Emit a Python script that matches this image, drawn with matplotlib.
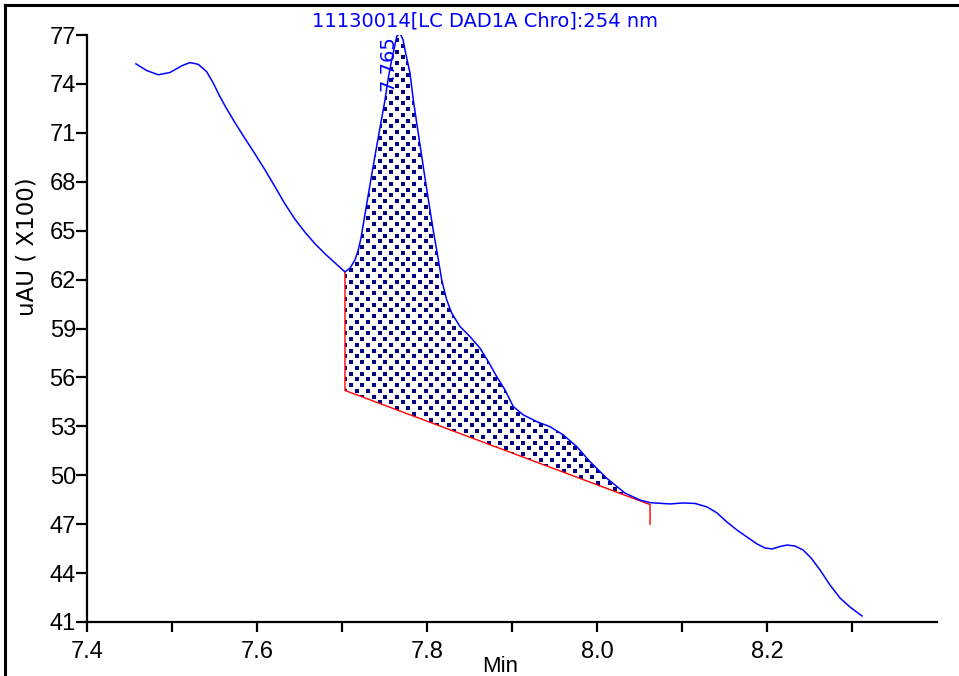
import numpy as np
import matplotlib
matplotlib.use("Agg")
import matplotlib.pyplot as plt
from matplotlib.lines import Line2D
from matplotlib.patches import Polygon

# chromatogram trace (min, uAU x100)
time_min = [7.4576, 7.4702, 7.4839, 7.4976, 7.5114, 7.5212, 7.5309, 7.5408, 7.5486, 7.5556,
            7.5635, 7.5741, 7.5859, 7.5976, 7.6094, 7.6212, 7.6329, 7.6447, 7.6565, 7.6682,
            7.6800, 7.6918, 7.6976, 7.7035,
            7.7094, 7.7153, 7.7192, 7.7224, 7.7271, 7.7329, 7.7388, 7.7447, 7.7506, 7.7541,
            7.7585, 7.7644, 7.7682, 7.7718, 7.7741, 7.7800, 7.7839, 7.7882, 7.7918, 7.7976,
            7.8035, 7.8082, 7.8118, 7.8173, 7.8232, 7.8291, 7.8388, 7.8506, 7.8624, 7.8721,
            7.8820, 7.8918, 7.9015, 7.9133, 7.9291, 7.9447, 7.9604, 7.9761, 7.9918, 8.0114,
            8.0329, 8.0506, 8.0624,
            8.0682, 8.0859, 8.1012, 8.1153, 8.1294, 8.1412, 8.1529, 8.1647, 8.1765, 8.1882,
            8.1976, 8.2059, 8.2153, 8.2235, 8.2329, 8.2424, 8.2518, 8.2624, 8.2741, 8.2859,
            8.2976, 8.3118]
signal = [75.23, 74.82, 74.56, 74.70, 75.11, 75.31, 75.20, 74.75, 74.05, 73.30,
          72.55, 71.62, 70.65, 69.71, 68.73, 67.69, 66.64, 65.70, 64.90, 64.20,
          63.58, 63.02, 62.75, 62.47,
          62.70, 63.21, 63.82, 64.56, 66.03, 67.81, 69.59, 71.31, 73.02, 74.25,
          75.48, 76.91, 77.13, 76.71, 76.09, 74.66, 73.02, 71.49, 70.26, 68.24,
          66.28, 64.75, 63.70, 61.98, 60.75, 59.94, 59.12, 58.50, 57.79, 56.97,
          56.05, 55.23, 54.21, 53.70, 53.29, 52.98, 52.47, 51.76, 50.83, 49.82,
          48.91, 48.48, 48.32,
          48.30, 48.24, 48.30, 48.27, 48.06, 47.69, 47.13, 46.64, 46.21, 45.79,
          45.54, 45.48, 45.63, 45.72, 45.66, 45.42, 44.93, 44.19, 43.27, 42.47,
          41.92, 41.37]

# integration baseline of the peak
peak_start, peak_end = 7.7035, 8.0624
base_start, base_end = 55.2, 48.2
start_top, end_drop = 62.47, 47.0
peak_rt = "7.765"

yticks = list(range(41, 78, 3))
xticks_major = [7.4, 7.6, 7.8, 8.0, 8.2]
xticks_minor = [7.5, 7.7, 7.9, 8.1, 8.3]

W, H = 959, 676
fig = plt.figure(figsize=(W / 100, H / 100), dpi=100)
ax = fig.add_axes([87 / W, (H - 622) / H, 850 / W, 587 / H])

tick_font = ['Liberation Sans Narrow', 'Liberation Sans', 'DejaVu Sans']

t = np.array(time_min)
s = np.array(signal)
ax.plot(t, s, color='#0000ff', lw=1.1, zorder=3)

# shaded peak area with a dotted pattern
mask = (t >= peak_start) & (t <= peak_end)
verts = list(zip(t[mask], s[mask])) + [(peak_end, base_end), (peak_start, base_start)]
poly = Polygon(verts, closed=True, facecolor='none', edgecolor='none')
ax.add_patch(poly)
dx, dy = 11.5 / 850, 5.75 / 587 * 36
rows = np.arange(46, 78, dy)
gx, gy = [], []
for i, yy in enumerate(rows):
    xs = np.arange(7.69 + (dx / 2 if i % 2 else 0), 8.08, dx)
    gx.extend(xs)
    gy.extend([yy] * len(xs))
dots = ax.scatter(gx, gy, marker='s', s=5, color='#000080', linewidths=0, zorder=2)
dots.set_clip_path(poly)

# red baseline
ax.plot([peak_start, peak_start, peak_end, peak_end],
        [start_top, base_start, base_end, end_drop], color='red', lw=1, zorder=2)

ax.text(7.754, 77.0, peak_rt, rotation=90, ha='center', va='top',
        color='#0000ff', fontsize=14, family='DejaVu Sans')

ax.set_xlim(7.4, 8.4)
ax.set_ylim(41, 77)
for sp in ['top', 'right']:
    ax.spines[sp].set_visible(False)
for sp in ['left', 'bottom']:
    ax.spines[sp].set_linewidth(1.6)
ax.set_yticks(yticks)
ax.set_xticks(xticks_major)
ax.set_xticks(xticks_minor, minor=True)
ax.set_xticklabels([f"{v:.1f}" for v in xticks_major])
ax.tick_params(axis='y', direction='out', length=8, width=1.6, pad=0, labelsize=17)
ax.tick_params(axis='x', which='both', direction='out', length=7.5, width=1.6, pad=6, labelsize=17)
for lab in ax.get_xticklabels() + ax.get_yticklabels():
    lab.set_family(tick_font)

fig.text(27 / W, 1 - 247 / H, "uAU ( X100)", rotation=90, ha='center', va='center',
         fontsize=16.5, family='DejaVu Sans')
fig.text(500 / W, 1 - 667 / H, "Min", ha='center', va='center',
         fontsize=16, family=tick_font)
fig.text(485 / W, 1 - 21 / H, "11130014[LC DAD1A Chro]:254 nm", ha='center',
         va='center', color='#0000ff', fontsize=14, family='DejaVu Sans')

# outer frame of the report window
fig.add_artist(Line2D([4.5 / W, 4.5 / W], [0, 1 - 5 / H], color='black', lw=2.2))
fig.add_artist(Line2D([4.5 / W, 1], [1 - 5 / H, 1 - 5 / H], color='black', lw=2.2))

fig.savefig("out.png", dpi=100)
